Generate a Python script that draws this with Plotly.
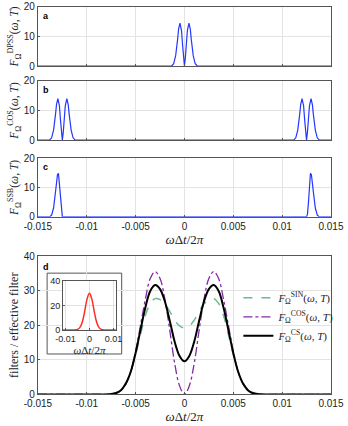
import plotly.graph_objects as go

# ---- data ----
# panel a: DPSS filter (double peak around 0)
xa = [-0.015, -0.0015, -0.0013, -0.0011, -0.0009, -0.0007, -0.0006, -0.00046, -0.0003, -0.0002, -0.0001, 0.0,
      0.0001, 0.0002, 0.0003, 0.00046, 0.0006, 0.0007, 0.0009, 0.0011, 0.0013, 0.0015, 0.015]
ya = [0, 0, 0.1, 0.8, 3.5, 9.0, 12.5, 14.5, 12.0, 7.5, 3.0, 0,
      3.0, 7.5, 12.0, 14.5, 12.5, 9.0, 3.5, 0.8, 0.1, 0, 0]

# panel b: COS filter (double peaks near +-0.0125)
xb = [-0.015, -0.0140, -0.0138, -0.0136, -0.0134, -0.0132, -0.0131, -0.01296, -0.0128, -0.0127, -0.0126, -0.0125,
      -0.0124, -0.0123, -0.0122, -0.01204, -0.0119, -0.0118, -0.0116, -0.0114, -0.0112, -0.0110,
      0.0110, 0.0112, 0.0114, 0.0116, 0.0118, 0.0119, 0.01204, 0.0122, 0.0123, 0.0124, 0.0125,
      0.0126, 0.0127, 0.0128, 0.01296, 0.0131, 0.0132, 0.0134, 0.0136, 0.0138, 0.0140, 0.015]
yb = [0, 0, 0.1, 0.8, 3.4, 8.7, 12.0, 14.0, 11.6, 7.2, 2.9, 0,
      2.9, 7.2, 11.6, 14.0, 12.0, 8.7, 3.4, 0.8, 0.1, 0,
      0, 0.1, 0.8, 3.4, 8.7, 12.0, 14.0, 11.6, 7.2, 2.9, 0,
      2.9, 7.2, 11.6, 14.0, 12.0, 8.7, 3.4, 0.8, 0.1, 0, 0]

# panel c: SSB filter (single peaks near +-0.013)
xc = [-0.015, -0.0138, -0.0136, -0.0134, -0.0132, -0.0131, -0.0130, -0.0129, -0.0128, -0.0127, -0.0126, -0.0125,
      0.0125, 0.0126, 0.0127, 0.0128, 0.0129, 0.0130, 0.0131, 0.0132, 0.0134, 0.0136, 0.0138, 0.015]
yc = [0, 0, 0.6, 3.0, 8.5, 12.0, 14.3, 14.8, 11.0, 5.0, 1.0, 0,
      0, 1.0, 5.0, 11.0, 14.8, 14.3, 12.0, 8.5, 3.0, 0.6, 0, 0]

# panel d: SIN / COS / CS filters
xd = [-0.015, -0.009, -0.008, -0.0075, -0.007, -0.0065, -0.006, -0.0055, -0.005, -0.0045, -0.004, -0.0035,
      -0.003, -0.0025, -0.002, -0.0015, -0.001, -0.0005, 0.0, 0.0005, 0.001, 0.0015, 0.002, 0.0025,
      0.003, 0.0035, 0.004, 0.0045, 0.005, 0.0055, 0.006, 0.0065, 0.007, 0.0075, 0.008, 0.009, 0.015]
sin_d = [0, 0, 0.03, 0.13, 0.5, 1.4, 3.3, 6.6, 11.5, 17.3, 22.8, 26.3,
         27.7, 27.4, 26.2, 24.0, 21.5, 19.8, 19.2, 19.8, 21.5, 24.0, 26.2, 27.4,
         27.7, 26.3, 22.8, 17.3, 11.5, 6.6, 3.3, 1.4, 0.5, 0.13, 0.03, 0, 0]
cos_d = [0, 0, 0.02, 0.1, 0.35, 1.1, 3.0, 6.5, 12.5, 20.0, 27.5, 33.5,
         35.5, 33.5, 27.5, 18.5, 9.0, 2.5, 0.0, 2.5, 9.0, 18.5, 27.5, 33.5,
         35.5, 33.5, 27.5, 20.0, 12.5, 6.5, 3.0, 1.1, 0.35, 0.1, 0.02, 0, 0]
cs_d = [0, 0, 0.03, 0.12, 0.43, 1.25, 3.15, 6.55, 12.0, 18.65, 25.15, 29.9,
        31.6, 30.45, 26.85, 21.25, 15.25, 11.15, 9.6, 11.15, 15.25, 21.25, 26.85, 30.45,
        31.6, 29.9, 25.15, 18.65, 12.0, 6.55, 3.15, 1.25, 0.43, 0.12, 0.03, 0, 0]

# inset: effective filter
xi = [-0.011, -0.006, -0.005, -0.004, -0.003, -0.002, -0.001, 0.0, 0.001, 0.002, 0.003, 0.004, 0.005, 0.006, 0.011]
yi = [0, 0.06, 0.4, 1.9, 6.3, 15.0, 25.2, 30.0, 25.2, 15.0, 6.3, 1.9, 0.4, 0.06, 0]

xtick_vals = [-0.015, -0.01, -0.005, 0, 0.005, 0.01, 0.015]
xtick_text = ["-0.015", "-0.01", "-0.005", "0", "0.005", "0.01", "0.015"]

BLUE = "rgb(35,55,255)"
SERIF = "Liberation Serif"
SANS = "Liberation Sans"
XLAB = "<i>ω</i>Δ<i>t</i>/2<i>π</i>"

def flab(sup):
    return f"<i>F</i><sub>Ω</sub><sup>{sup}</sup>(<i>ω</i>, <i>T</i>)"

fig = go.Figure()
fig.add_trace(go.Scatter(x=xa, y=ya, mode="lines", line=dict(color=BLUE, width=1.2),
                         xaxis="x", yaxis="y", showlegend=False))
fig.add_trace(go.Scatter(x=xb, y=yb, mode="lines", line=dict(color=BLUE, width=1.2),
                         xaxis="x2", yaxis="y2", showlegend=False))
fig.add_trace(go.Scatter(x=xc, y=yc, mode="lines", line=dict(color=BLUE, width=1.2),
                         xaxis="x3", yaxis="y3", showlegend=False))
fig.add_trace(go.Scatter(x=xd, y=sin_d, mode="lines", name=flab("SIN"), line_shape="spline",
                         line=dict(color="rgb(110,185,145)", width=1.5, dash="dash"),
                         xaxis="x4", yaxis="y4"))
fig.add_trace(go.Scatter(x=xd, y=cos_d, mode="lines", name=flab("COS"), line_shape="spline",
                         line=dict(color="rgb(135,40,165)", width=1.3, dash="dashdot"),
                         xaxis="x4", yaxis="y4"))
fig.add_trace(go.Scatter(x=xd, y=cs_d, mode="lines", name=flab("CS"), line_shape="spline",
                         line=dict(color="black", width=2),
                         xaxis="x4", yaxis="y4"))
fig.add_trace(go.Scatter(x=xi, y=yi, mode="lines", line_shape="spline",
                         line=dict(color="rgb(255,45,35)", width=1.5),
                         xaxis="x5", yaxis="y5", showlegend=False))

axis_style = dict(
    showline=True, mirror=True, linecolor="#555555", linewidth=1,
    ticks="inside", ticklen=2, tickcolor="#555555",
    showgrid=True, gridcolor="#e3e3e3", gridwidth=1, zeroline=False,
    tickfont=dict(family=SANS, size=10, color="#222222"),
)
XDOM = [0.109, 0.951]

def xax(anchor, labels, title=None):
    d = dict(axis_style, domain=XDOM, anchor=anchor, range=[-0.015, 0.015],
             tickvals=xtick_vals, ticktext=xtick_text, showticklabels=labels)
    if title:
        d["title"] = dict(text=title, font=dict(family=SERIF, size=13, color="#222222"), standoff=1)
    return d

def yax(anchor, dom, rng, vals, title, size=11.5):
    return dict(axis_style, domain=dom, anchor=anchor, range=rng, tickvals=vals,
                title=dict(text=title, font=dict(family=SERIF, size=size, color="#222222"), standoff=2))

fig.update_layout(
    template="none",
    width=348, height=426,
    margin=dict(l=0, r=0, t=0, b=0),
    paper_bgcolor="white", plot_bgcolor="white",
    xaxis=xax("y", False),
    yaxis=yax("x", [0.845, 0.984], [0, 20], [0, 10, 20], flab("DPSS")),
    xaxis2=xax("y2", False),
    yaxis2=yax("x2", [0.671, 0.810], [0, 20], [0, 10, 20], flab("COS")),
    xaxis3=xax("y3", True, XLAB),
    yaxis3=yax("x3", [0.491, 0.629], [0, 20], [0, 10, 20], flab("SSB")),
    xaxis4=xax("y4", True, XLAB),
    yaxis4=yax("x4", [0.074, 0.399], [0, 40], [0, 10, 20, 30, 40], "filters / effective filter", size=12),
    xaxis5=dict(axis_style, domain=[0.181, 0.333], anchor="y5", range=[-0.011, 0.011],
                tickvals=[-0.01, 0, 0.01], ticktext=["-0.01", "0", "0.01"],
                tickfont=dict(family=SANS, size=9, color="#222222"),
                title=dict(text=XLAB, font=dict(family=SERIF, size=11, color="#222222"), standoff=0)),
    yaxis5=dict(axis_style, domain=[0.2254, 0.3404], anchor="x5", range=[0, 40],
                tickvals=[0, 20, 40], tickfont=dict(family=SANS, size=9, color="#222222")),
    legend=dict(x=0.685, y=0.335, xanchor="left", yanchor="top", bgcolor="rgba(0,0,0,0)",
                font=dict(family=SERIF, size=11, color="#222222"), itemwidth=30, tracegroupgap=0),
)

# white box behind the inset
fig.add_shape(type="rect", xref="x5 domain", yref="y5 domain", x0=-0.30, x1=1.11, y0=-0.49, y1=1.16,
              fillcolor="white", line=dict(color="#555555", width=1), layer="below")

for ref, lab in [("", "a"), ("2", "b"), ("3", "c"), ("4", "d")]:
    fig.add_annotation(text=f"<b>{lab}</b>", xref=f"x{ref} domain", yref=f"y{ref} domain",
                       x=0.012, y=0.97, xanchor="left", yanchor="top", showarrow=False,
                       font=dict(family=SANS, size=9, color="black"))

# the page body has a default 8px margin; remove it so the figure fills the window
fig.write_html("out.html", config={"displayModeBar": False},
               post_script="document.body.style.margin='0';document.body.style.overflow='hidden';")
